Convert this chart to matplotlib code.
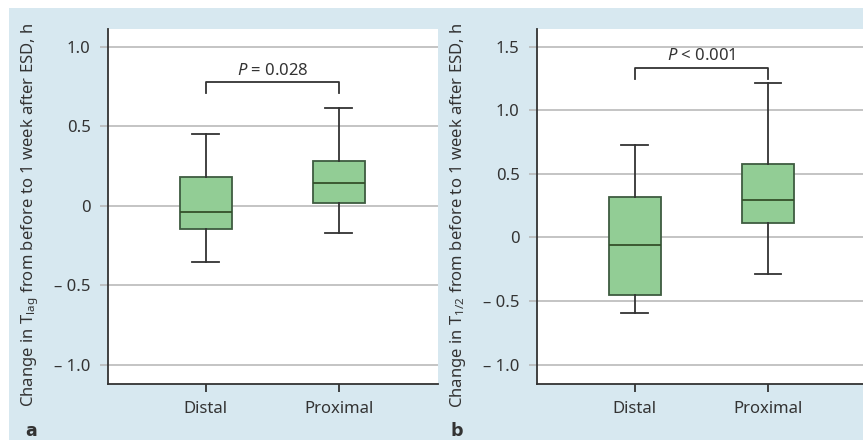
import matplotlib
matplotlib.use("Agg")
import matplotlib.pyplot as plt
from matplotlib.patches import Rectangle

plt.rcParams['font.family'] = ['Noto Sans', 'DejaVu Sans']
plt.rcParams['mathtext.fontset'] = 'custom'
plt.rcParams['mathtext.rm'] = 'Noto Sans'
plt.rcParams['mathtext.it'] = 'Noto Sans:italic'
plt.rcParams['mathtext.bf'] = 'Noto Sans:bold'

# ===== DATA =====
groups = ["Distal", "Proximal"]

# panel a: change in T_lag
a_whislo = [-0.354, -0.174]
a_q1 = [-0.148, 0.015]
a_med = [-0.038, 0.141]
a_q3 = [0.182, 0.279]
a_whishi = [0.453, 0.613]
a_yticks = [-1.0, -0.5, 0, 0.5, 1.0]
a_ylabels = ["\u2013 1.0", "\u2013 0.5", "0", "0.5", "1.0"]
a_pval = r"$\mathit{P}$ = 0.028"

# panel b: change in T_1/2
b_whislo = [-0.592, -0.288]
b_q1 = [-0.456, 0.112]
b_med = [-0.063, 0.298]
b_q3 = [0.322, 0.578]
b_whishi = [0.727, 1.215]
b_yticks = [-1.0, -0.5, 0, 0.5, 1.0, 1.5]
b_ylabels = ["\u2013 1.0", "\u2013 0.5", "0", "0.5", "1.0", "1.5"]
b_pval = r"$\mathit{P}$ < 0.001"

BG = "#d7e8f0"
GREEN = "#92cd95"
EDGE = "#3e5c40"
DARK = "#333333"
GRID = "#b4b4b4"

W, H = 863, 440
fig = plt.figure(figsize=(W / 100, H / 100), dpi=100)
fig.patches.append(Rectangle((9 / W, 0), 1 - 9 / W, 1 - 8 / H, transform=fig.transFigure,
                             facecolor=BG, edgecolor="none", zorder=-10))


def panel(rect, xlim, ylim, whislo, q1, med, q3, whishi, yticks, ylabels,
          bracket_y, leg_y, pval, pval_y):
    ax = fig.add_axes(rect)
    ax.set_facecolor("white")
    stats = []
    for i in range(len(groups)):
        stats.append(dict(whislo=whislo[i], q1=q1[i], med=med[i], q3=q3[i],
                          whishi=whishi[i], fliers=[], label=groups[i]))
    ax.bxp(stats, positions=[1, 2], widths=0.39, capwidths=0.2,
           showfliers=False, patch_artist=True,
           boxprops=dict(facecolor=GREEN, edgecolor=EDGE, linewidth=1.3),
           medianprops=dict(color="#34502a", linewidth=1.3),
           whiskerprops=dict(color=DARK, linewidth=1.3),
           capprops=dict(color=DARK, linewidth=1.3))
    ax.set_xlim(*xlim)
    ax.set_ylim(*ylim)
    ax.set_yticks(yticks)
    ax.set_yticklabels(ylabels)
    ax.yaxis.grid(True, color=GRID, linewidth=1.1)
    ax.set_axisbelow(True)
    for s in ["top", "right"]:
        ax.spines[s].set_visible(False)
    for s in ["left", "bottom"]:
        ax.spines[s].set_color(DARK)
        ax.spines[s].set_linewidth(1.3)
    ax.tick_params(axis="y", length=6, width=1.1, color=GRID, pad=6.5,
                   labelsize=12, labelcolor=DARK)
    ax.tick_params(axis="x", length=6, width=1.3, color=DARK, pad=6,
                   labelsize=12, labelcolor=DARK)

    # significance bracket
    ax.plot([1, 1, 2, 2], [leg_y, bracket_y, bracket_y, leg_y], color=DARK,
            linewidth=1.3, clip_on=False)
    ax.text(1.5, pval_y, pval, ha="center", va="center", fontsize=12, color=DARK)
    return ax


panel([108 / W, 1 - 384 / H, (437.7 - 108) / W, 355 / H],
      (0.265, 2.744), (-1.121, 1.111),
      a_whislo, a_q1, a_med, a_q3, a_whishi, a_yticks, a_ylabels,
      0.775, 0.71, a_pval, 0.85)

panel([537 / W, 1 - 384 / H, (863 - 537) / W, 355 / H],
      (0.267, 2.713), (-1.152, 1.639),
      b_whislo, b_q1, b_med, b_q3, b_whishi, b_yticks, b_ylabels,
      1.33, 1.246, b_pval, 1.43)

fig.text(30 / W, 1 - 215 / H,
         r"Change in T$_{\mathregular{lag}}$ from before to 1 week after ESD, h",
         rotation=90, ha="center", va="center", fontsize=12, color=DARK)
fig.text(457.5 / W, 1 - 215 / H,
         r"Change in T$_{\mathregular{1/2}}$ from before to 1 week after ESD, h",
         rotation=90, ha="center", va="center", fontsize=12, color=DARK)

# panel letters
fig.text(31 / W, 1 - 436 / H, "a", ha="center", va="baseline", fontsize=12.5,
         fontweight="bold", family=["DejaVu Sans"], color=DARK)
fig.text(457 / W, 1 - 436 / H, "b", ha="center", va="baseline", fontsize=12.5,
         fontweight="bold", family=["DejaVu Sans"], color=DARK)

fig.savefig("out.png", dpi=100)
